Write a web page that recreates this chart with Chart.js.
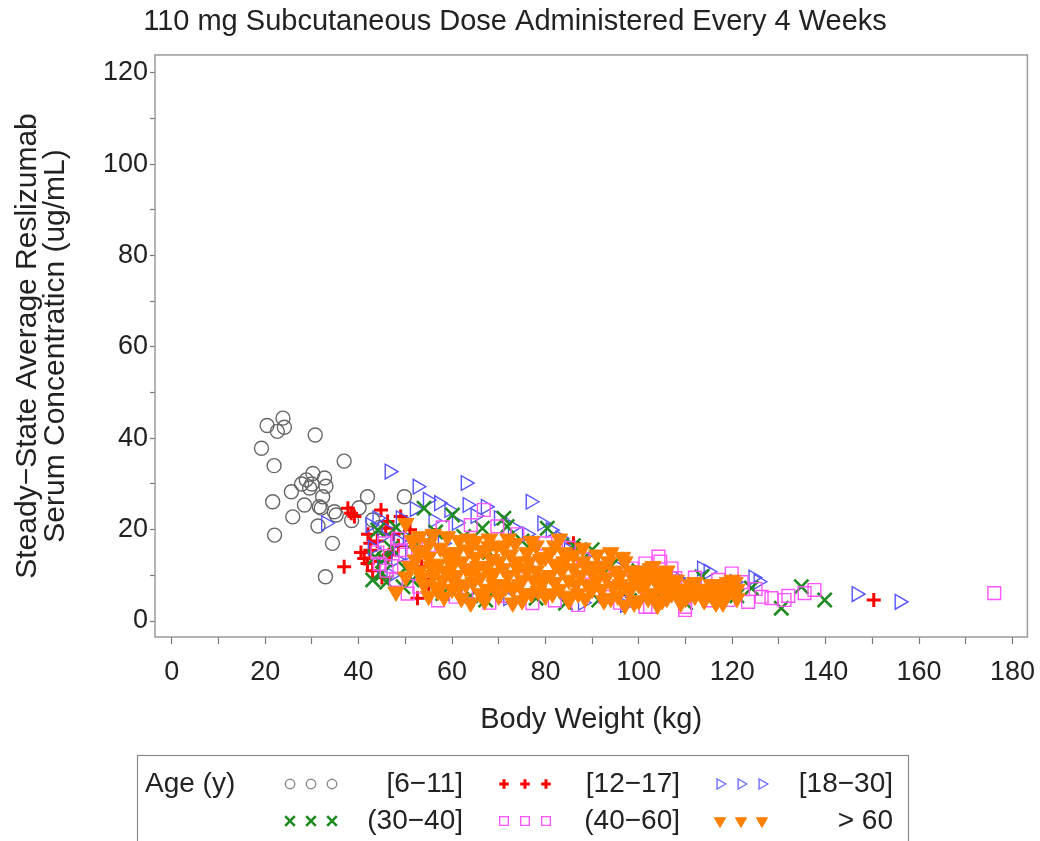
<!DOCTYPE html>
<html>
<head>
<meta charset="utf-8">
<script src="https://cdn.jsdelivr.net/npm/chart.js@4/dist/chart.umd.min.js"></script>
<style>
html,body{margin:0;padding:0;background:#fff}
#wrap{width:1040px;height:841px;position:relative}
</style>
</head>
<body>
<div id="wrap"><canvas id="c" width="1040" height="841"></canvas></div>
<script>
// ---------- data ----------
const chartTitle = '110 mg Subcutaneous Dose Administered Every 4 Weeks';
const xTitle = 'Body Weight (kg)';
const yTitle = ['Steady\u2212State Average Reslizumab', 'Serum Concentraticn (ug/mL)'];
const legendTitle = 'Age (y)';
const ageGroups = ['[6\u221211]', '[12\u221217]', '[18\u221230]', '(30\u221240]', '(40\u221260]', '> 60'];

// [body weight kg, concentration ug/mL]
const age6to11 = [
  [19.2,37.8],[20.4,42.8],[22.6,41.5],[23.8,44.4],[24.1,42.4],[30.7,40.7],[36.9,35.0],
  [21.9,34.0],[30.2,32.3],[28.8,30.9],[32.7,31.3],[29.5,29.1],[25.6,28.3],[32.3,27.2],
  [21.6,26.1],[28.4,25.4],[31.6,25.0],[25.9,22.8],[32.0,24.7],[35.2,23.2],[31.3,20.8],
  [22.0,18.8],[34.4,17.0],[32.9,9.7],[40.1,24.8],[41.9,27.2],[43.0,22.1],[49.8,27.2],
  [34.8,23.9],[30.0,30.0],[33.0,29.5],[27.8,30.0],[38.5,22.0],[44.5,20.5]
];
const age12to17 = [
  [37.7,24.7],[38.4,23.6],[39.1,22.9],[44.8,24.3],[49.0,22.9],[36.9,11.9],[41.2,13.7],
  [41.9,12.6],[46.2,21.8],[52.6,5.0],[45.8,20.3],[86.0,17.0],[150.3,4.6],[42.5,15.5],
  [44.0,17.5],[47.5,19.0],[43.0,11.0],[46.5,14.5],[48.5,16.5],[51.0,20.0],[53.5,12.0],
  [56.2,18.8],[42.0,19.0],[45.0,9.5],[55.0,8.0],[42.5,17.0],[44.5,13.0],[47.0,15.0],
  [40.5,15.0]
];
const age18to30 = [
  [46.6,32.7],[52.6,29.4],[62.9,30.2],[54.8,26.5],[57.2,25.8],[59.4,24.3],[63.3,25.4],
  [67.2,25.0],[76.8,26.1],[79.3,21.4],[81.1,19.9],[83.2,18.1],[33.0,21.4],[113.5,11.5],
  [114.9,10.8],[125.6,8.6],[124.5,9.5],[146.6,5.9],[155.8,4.2],[108.1,9.4],[49.0,22.5],
  [52.0,24.5],[56.0,22.0],[61.0,21.5],[65.0,23.0],[70.0,22.5],[73.0,20.5],[76.0,19.0],
  [85.0,15.5],[90.0,13.0],[95.0,12.0],[100.0,10.5],[104.0,9.5],[110.0,8.0],[118.0,7.0],
  [120.5,8.5],[45.0,18.5],[48.0,13.5],[58.0,17.0],[72.0,5.0],[88.0,4.0],[97.0,3.5],
  [44.0,22.5],[50.5,18.0],[43.0,16.0],[45.0,12.0],[47.0,10.0],[46.0,20.0],[48.5,17.5],
  [51.0,15.0],[42.5,21.0]
];
const age30to40 = [
  [54.0,24.7],[60.1,23.2],[66.5,20.3],[45.1,10.4],[44.1,19.9],[67.2,4.6],[71.1,22.5],
  [71.8,20.7],[80.4,20.3],[90.0,15.6],[84.3,3.9],[91.4,4.6],[113.5,9.7],[118.1,6.8],
  [124.1,7.2],[130.5,2.8],[134.8,7.5],[139.8,4.6],[47.0,16.0],[50.0,11.5],[56.5,19.5],
  [62.5,18.5],[75.0,17.5],[58.0,6.0],[64.0,5.5],[78.0,5.0],[94.0,12.0],[98.0,4.5],
  [104.0,5.5],[110.0,4.0],[46.0,8.5],[52.0,17.5],[68.0,15.0],[86.0,16.5],[100.0,11.0],
  [121.0,5.5],[43.5,14.0],[45.5,13.5],[48.0,20.5],[49.5,7.5],[51.5,9.0],[43.0,9.0]
];
const age40to60 = [
  [66.8,24.3],[69.7,20.7],[104.2,14.1],[104.6,13.0],[101.4,12.6],[109.9,3.1],[102.4,3.1],
  [111.3,7.5],[60.8,5.3],[77.2,3.9],[92.8,5.3],[107.8,9.4],[119.9,10.4],[116.8,6.8],
  [119.2,4.6],[123.4,4.2],[126.3,5.3],[128.4,5.0],[131.2,4.6],[135.5,6.1],[137.6,6.8],
  [176.1,6.1],[109.9,2.4],[101.4,3.1],[98.5,11.5],[95.0,10.0],[85.0,16.0],[80.0,17.0],
  [74.0,19.0],[64.0,21.0],[58.0,20.5],[55.0,16.5],[50.0,14.5],[47.0,12.0],[53.0,7.5],
  [57.0,4.5],[63.0,6.5],[68.0,4.0],[72.0,5.5],[82.0,4.5],[87.0,3.5],[96.0,4.0],
  [105.0,8.0],[112.0,9.5],[115.0,4.5],[125.0,7.0],[132.0,5.5],[99.0,6.5],[90.0,8.0],
  [102.0,10.0],[107.0,11.5],[113.0,6.0],[88.0,13.5],[76.0,12.0],[48.5,18.0],[122.0,8.5],
  [117.0,9.0],[44.0,15.0],[45.5,17.0],[46.0,11.0],[48.0,9.0],[49.0,15.5],[50.5,6.0],
  [52.0,10.5],[44.5,12.5]
];
const ageOver60 = [
  [48.0,6.4],[50.1,21.4],[50.1,9.7],[52.2,13.4],[55.1,17.0],[58.3,5.3],[61.5,17.7],
  [63.6,15.6],[67.9,16.3],[51.5,17.7],
  [53,11],[54,8],[55,14],[56,10],[57,12.5],[58,9],[59,15],[60,7],[60,12],[57,6.5],[54,15.5],[59,18.5],
  [52.5,15.5],[53.5,9.5],[55.5,12],[56.5,7.5],[57.5,16],[58.5,11],[59.5,13.5],[53,18.5],[56,19],
  [60,9.5],[55,5.5],[51,12],
  [61,10],[62,13],[63,8],[64,11],[65,14],[66,6],[66,9.5],[67,12],[68,18],[69,8],[70,13],[70,5.5],
  [62,5],[65,17.5],[68,10.5],
  [61,15],[61.5,7.5],[63,11.5],[63.5,18],[64.5,8.5],[65.5,12],[66.5,15.5],[67,4.5],[68.5,13.5],
  [69,10.5],[69.5,16.5],[70,8],[64,4],[67.5,7],
  [71,16],[72,10],[73,7],[74,13],[75,9],[76,15],[77,6],[78,11],[79,8.5],[80,14],[72,18],[75,4.5],
  [78,16.5],[80,5.5],[74,11.5],
  [71,11.5],[71.5,7.5],[72.5,14.5],[73,4],[73.5,17],[74.5,8],[76,11],[76.5,13],[77,17.5],
  [78.5,6.5],[79,13.5],[80,9.5],[75.5,6],[77.5,9],
  [81,10],[82,12.5],[83,7],[84,15],[85,9],[86,11.5],[87,6],[88,13],[89,8],[90,10.5],[82,16.5],
  [85,4.5],[88,16],[83,18],
  [81,15],[81.5,6],[82,8.5],[83.5,11],[84,13],[84.5,5.5],[86,14.5],[86.5,8],[87.5,10],[88.5,5],
  [89.5,12],[90,7],
  [91,12],[92,7],[93,9.5],[94,5],[95,11],[96,8],[97,13],[98,6.5],[99,9],[100,11],[91,14.5],
  [94,15],[100,4.5],[97,3.5],
  [91,9],[92,11.5],[92.5,4.5],[93.5,13],[94.5,7.5],[95.5,5.5],[96,10],[97.5,7.5],[98.5,11],
  [99,4],[100,8],[96.5,14],
  [101,7.5],[102,9],[103,6],[104,10.5],[105,7],[106,5],[107,8.5],[108,6.5],[109,4],[110,7],
  [103,12],[106,11],[104,3.5],
  [101,10],[102,5],[102.5,11.5],[104,8],[105,4.5],[105.5,9.5],[107,6],[108,9],[109,7],[110,5],
  [111,8],[112,5.5],[113,7],[114,4.5],[115,6],[116,5],[117,8],[118,4],[119,6],[120,9],
  [120.6,8.5],[121,5],[113.4,5.7],[109.5,6.1],
  [111,6],[112,8.5],[114,6.5],[115.5,8],[116.5,4],[118,7],[119,8.5],[121,7],[117,6]
];
const groupData = [age6to11, age12to17, age18to30, age30to40, age40to60, ageOver60];

// ---------- styles ----------
const FONT = "'Liberation Sans', Arial, Helvetica, sans-serif";
const TEXT = '#222222';
const markerStyles = [
  {pointStyle:'circle',   radius:7,   rotation:0,   stroke:'#666666', fill:'rgba(0,0,0,0)', bw:1.4, order:6},
  {pointStyle:'cross',    radius:7,   rotation:0,   stroke:'#ff0000', fill:'rgba(0,0,0,0)', bw:3,   order:5},
  {pointStyle:'triangle', radius:8.5, rotation:90,  stroke:'#5555ff', fill:'rgba(0,0,0,0)', bw:1.4, order:4},
  {pointStyle:'crossRot', radius:10,  rotation:0,   stroke:'#1f8a1f', fill:'rgba(0,0,0,0)', bw:2.6, order:3},
  {pointStyle:'rect',     radius:9,   rotation:0,   stroke:'#ff55ff', fill:'rgba(0,0,0,0)', bw:1.4, order:2},
  {pointStyle:'triangle', radius:9.5, rotation:180, stroke:'#ff8000', fill:'#ff8000',       bw:1,   order:1}
];

const datasets = groupData.map((pts, i) => {
  const s = markerStyles[i];
  return {
    label: ageGroups[i],
    data: pts.map(p => ({x: p[0], y: p[1]})),
    pointStyle: s.pointStyle,
    pointRadius: s.radius,
    pointRotation: s.rotation,
    pointBorderColor: s.stroke,
    pointBackgroundColor: s.fill,
    borderColor: s.stroke,
    backgroundColor: s.fill,
    pointBorderWidth: s.bw,
    order: s.order,
    showLine: false
  };
});

// frame around plot area
const framePlugin = {
  id: 'frame',
  afterDraw(chart) {
    const a = chart.chartArea, ctx = chart.ctx;
    ctx.save();
    ctx.strokeStyle = '#9a9a9a';
    ctx.lineWidth = 1.5;
    ctx.strokeRect(a.left, a.top, a.right - a.left, a.bottom - a.top);
    ctx.restore();
  }
};

function drawMarker(ctx, s, x, y, scale) {
  ctx.save();
  ctx.strokeStyle = s.stroke;
  ctx.fillStyle = s.fill;
  ctx.lineWidth = s.bw;
  Chart.helpers.drawPoint(ctx, {pointStyle: s.pointStyle, radius: s.radius * scale, rotation: s.rotation, borderWidth: s.bw}, x, y);
  ctx.restore();
}

// legend box below the chart
const legendPlugin = {
  id: 'ageLegend',
  afterDraw(chart) {
    const ctx = chart.ctx;
    ctx.save();
    ctx.strokeStyle = '#8a8a8a';
    ctx.lineWidth = 1.2;
    ctx.strokeRect(137.5, 755.5, 771, 110);
    ctx.font = '28px ' + FONT;
    ctx.fillStyle = TEXT;
    ctx.textBaseline = 'middle';
    ctx.textAlign = 'left';
    ctx.fillText(legendTitle, 145, 784);
    const cols = [{mx: 290, tx: 463}, {mx: 504, tx: 680}, {mx: 720, tx: 893}];
    const rows = [784, 821];
    const legendColors = ['#8c8c8c', null, '#7070ff', null, null, null];
    for (let i = 0; i < ageGroups.length; i++) {
      const r = Math.floor(i / 3), c = i % 3;
      const base = markerStyles[i];
      const s = Object.assign({}, base, legendColors[i] ? {stroke: legendColors[i]} : {});
      for (let k = 0; k < 3; k++) {
        drawMarker(ctx, s, cols[c].mx + k * 21, rows[r], 0.68);
      }
      ctx.fillStyle = TEXT;
      ctx.textAlign = 'right';
      ctx.textBaseline = 'middle';
      ctx.font = '28px ' + FONT;
      ctx.fillText(ageGroups[i], cols[c].tx, rows[r]);
    }
    ctx.restore();
  }
};

new Chart(document.getElementById('c'), {
  type: 'scatter',
  data: {datasets},
  plugins: [framePlugin, legendPlugin],
  options: {
    responsive: false,
    animation: false,
    events: [],
    layout: {padding: {left: 0, right: 10, top: 0, bottom: 94}},
    plugins: {
      legend: {display: false},
      tooltip: {enabled: false},
      title: {
        display: true,
        text: chartTitle,
        color: TEXT,
        font: {family: FONT, size: 29, weight: 'normal', lineHeight: 1.15},
        padding: {top: 5, bottom: 16.6}
      }
    },
    scales: {
      x: {
        type: 'linear',
        min: -3.6,
        max: 183.2,
        afterFit(scale) { scale.height = 110; scale.paddingLeft = 0; scale.paddingRight = 0; },
        border: {display: false},
        grid: {display: true, drawOnChartArea: false, drawTicks: true, tickLength: 7, tickColor: '#777', tickWidth: 1.2},
        ticks: {
          stepSize: 10,
          includeBounds: false,
          maxRotation: 0,
          autoSkip: false,
          padding: 12,
          color: TEXT,
          font: {family: FONT, size: 27},
          callback: v => (Math.round(v) % 20 === 0 ? String(Math.round(v)) : '')
        },
        title: {
          display: true,
          text: xTitle,
          color: TEXT,
          font: {family: FONT, size: 29},
          padding: {top: 0, bottom: 9.6}
        }
      },
      y: {
        type: 'linear',
        min: -3.5,
        max: 123.9,
        afterFit(scale) { scale.width = 155; scale.paddingTop = 0; scale.paddingBottom = 0; },
        border: {display: false},
        grid: {display: true, drawOnChartArea: false, drawTicks: true, tickLength: 5, tickColor: '#777', tickWidth: 1.2},
        ticks: {
          stepSize: 10,
          includeBounds: false,
          autoSkip: false,
          padding: 2,
          color: TEXT,
          font: {family: FONT, size: 27},
          callback: v => (Math.round(v) % 20 === 0 ? String(Math.round(v)) : '')
        },
        title: {
          display: true,
          text: yTitle,
          color: TEXT,
          font: {family: FONT, size: 30, lineHeight: 0.93},
          padding: {top: 14, bottom: 0}
        }
      }
    }
  }
});
</script>
</body>
</html>
